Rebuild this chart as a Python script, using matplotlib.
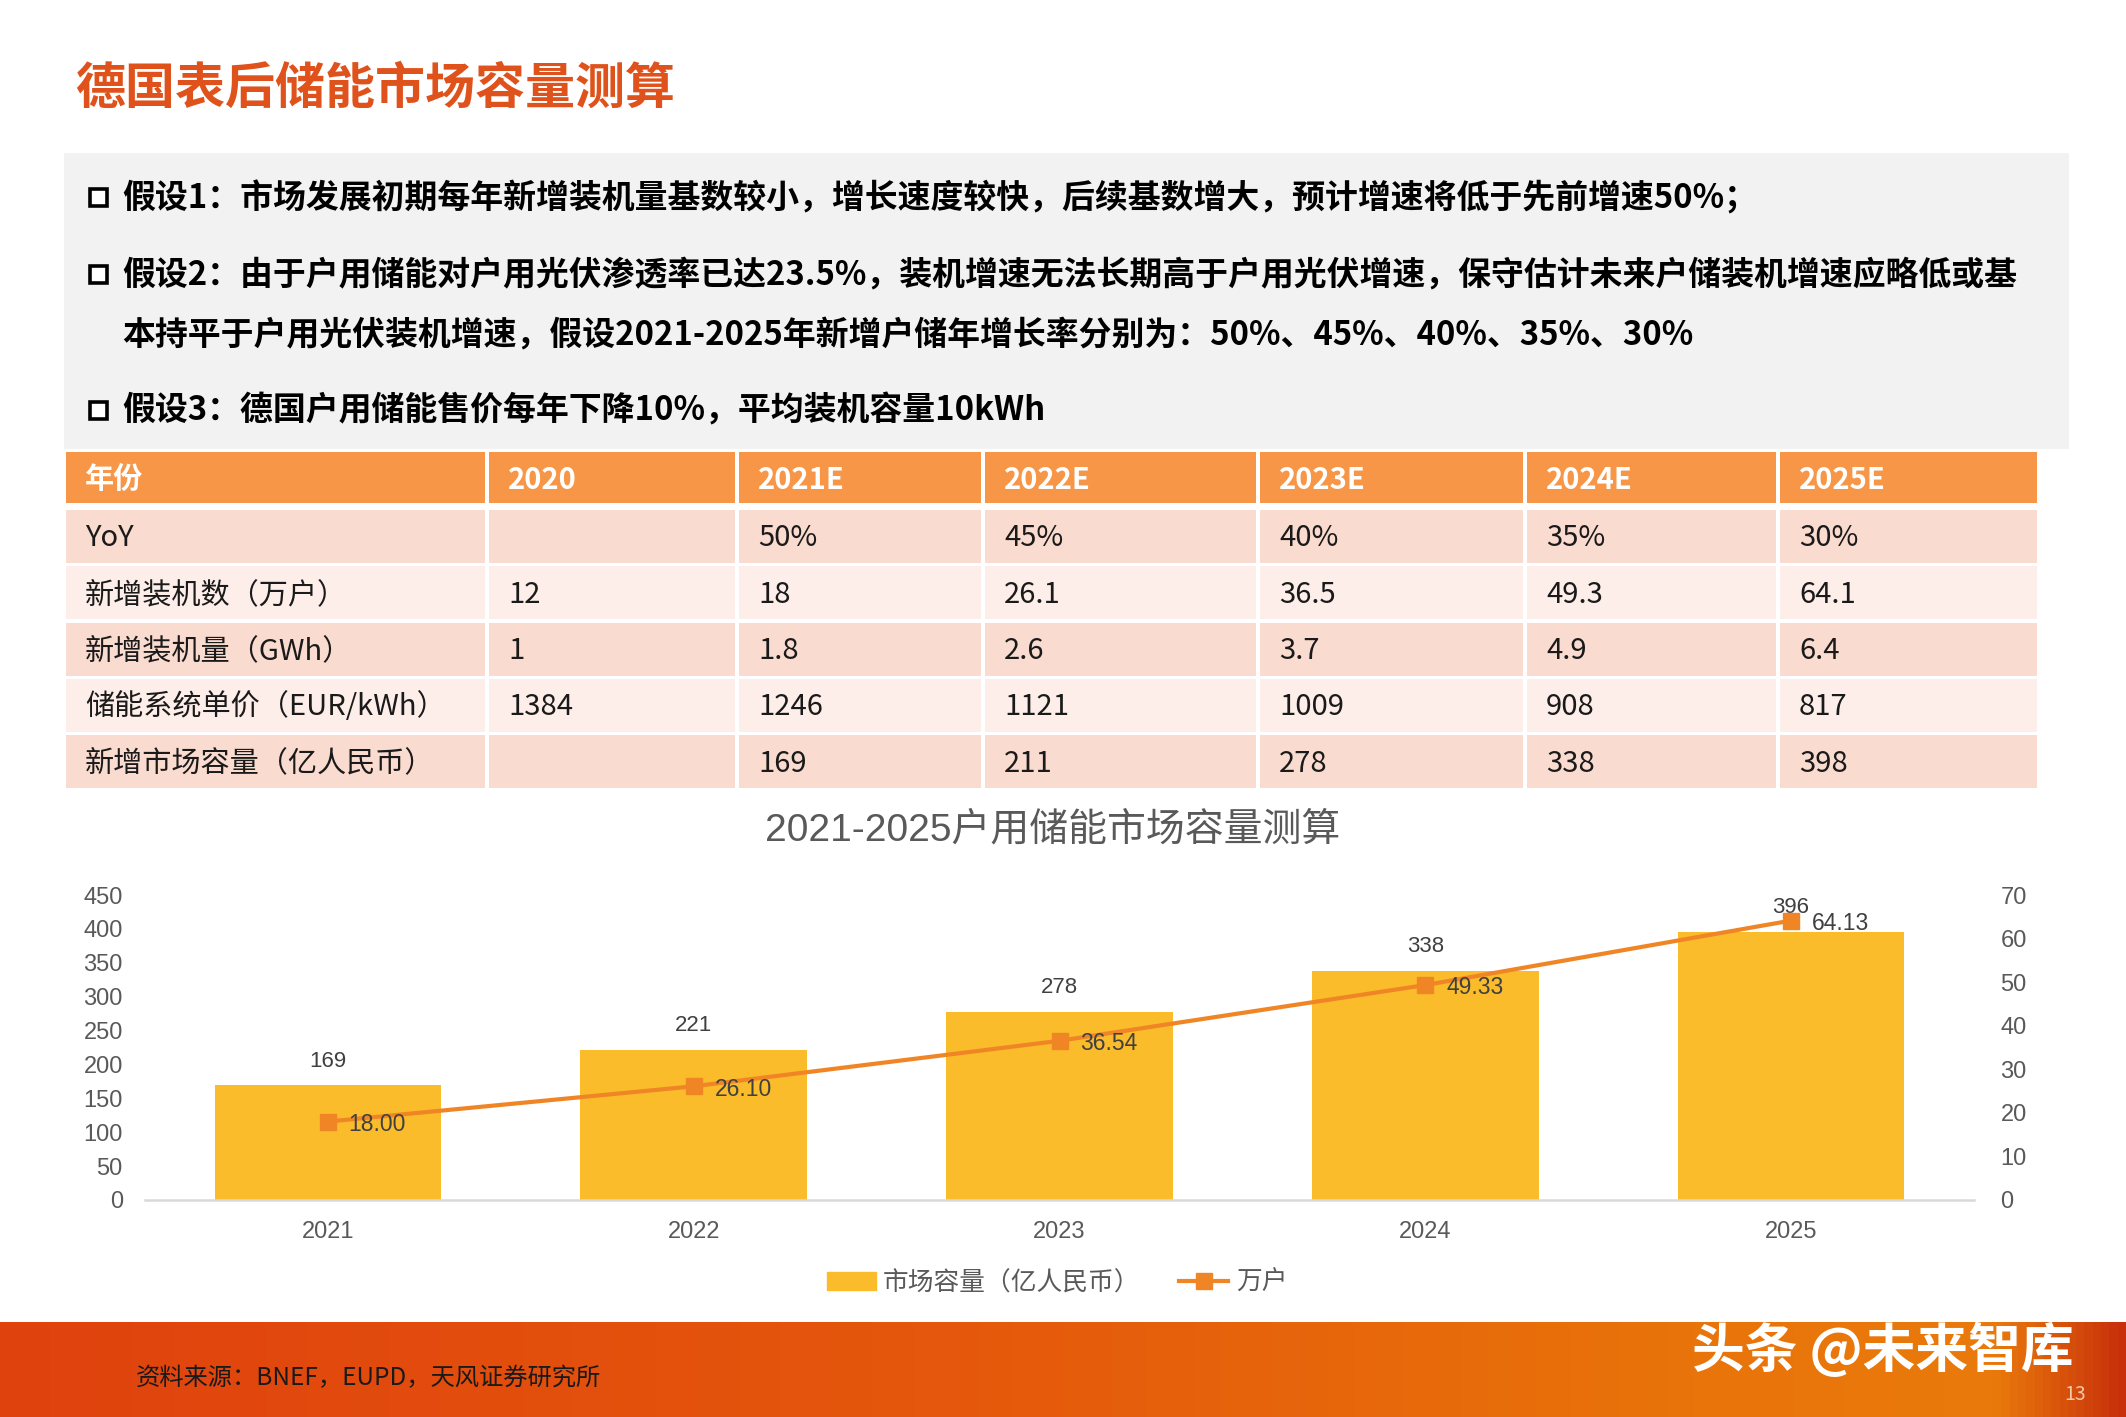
import numpy as np
import matplotlib
matplotlib.use("Agg")
import matplotlib.pyplot as plt
from matplotlib.patches import Rectangle
from matplotlib.lines import Line2D
from matplotlib.colors import LinearSegmentedColormap

W, H = 2126, 1417
CJK = ["Noto Sans CJK SC", "DejaVu Sans"]
CHART_FONT = ["Liberation Sans", "Noto Sans CJK SC"]

TITLE = "德国表后储能市场容量测算"
BULLETS = [
    "假设1：市场发展初期每年新增装机量基数较小，增长速度较快，后续基数增大，预计增速将低于先前增速50%；",
    "假设2：由于户用储能对户用光伏渗透率已达23.5%，装机增速无法长期高于户用光伏增速，保守估计未来户储装机增速应略低或基",
    "本持平于户用光伏装机增速，假设2021-2025年新增户储年增长率分别为：50%、45%、40%、35%、30%",
    "假设3：德国户用储能售价每年下降10%，平均装机容量10kWh",
]

# table
header = ["年份", "2020", "2021E", "2022E", "2023E", "2024E", "2025E"]
row_labels = ["YoY", "新增装机数（万户）", "新增装机量（GWh）", "储能系统单价（EUR/kWh）", "新增市场容量（亿人民币）"]
row_yoy = ["", "50%", "45%", "40%", "35%", "30%"]
row_units = ["12", "18", "26.1", "36.5", "49.3", "64.1"]
row_gwh = ["1", "1.8", "2.6", "3.7", "4.9", "6.4"]
row_price = ["1384", "1246", "1121", "1009", "908", "817"]
row_market = ["", "169", "211", "278", "338", "398"]

# chart
chart_title = "2021-2025户用储能市场容量测算"
years = ["2021", "2022", "2023", "2024", "2025"]
market = [169, 221, 278, 338, 396]
households = [18.00, 26.10, 36.54, 49.33, 64.13]
SOURCE = "资料来源：BNEF，EUPD，天风证券研究所"


def fx(px):
    return px / W


def fy(py):
    return 1 - py / H


def rect(x0, x1, y0, y1, **kw):
    # pixel box (top-left origin) -> figure rectangle
    fig.add_artist(Rectangle((fx(x0), fy(y1)), fx(x1) - fx(x0), fy(y0) - fy(y1),
                             transform=fig.transFigure, **kw))


fig = plt.figure(figsize=(W / 100, H / 100), dpi=100)
fig.patch.set_facecolor("white")

# title
fig.text(fx(75), fy(89), TITLE, family=CJK, fontsize=36, fontweight="heavy",
         color="#E0521B", va="center", ha="left")

# assumption box
rect(64, 2069, 153, 449, facecolor="#F2F2F2", edgecolor="none")
bullet_rows = [(198, True), (275, True), (335, False), (411, True)]
for text, (y, has_box) in zip(BULLETS, bullet_rows):
    if has_box:
        rect(90, 107, y - 9, y + 8, facecolor="white", edgecolor="black", linewidth=2.6)
    fig.text(fx(122), fy(y), text, family=CJK, fontsize=23.7, fontweight="bold",
             color="black", va="center", ha="left")

# table
col_edges = [64, 487, 737, 983, 1258, 1525, 1778, 2039]
rows = [row_yoy, row_units, row_gwh, row_price, row_market]
row_colors = ["#FADBD0", "#FDEEE9", "#FADBD0", "#FDEEE9", "#FADBD0"]

for i in range(len(header)):
    rect(col_edges[i] + 2, col_edges[i + 1] - 2, 452, 503, facecolor="#F79646", edgecolor="none")
    fig.text(fx(col_edges[i] + 21), fy(480), header[i], family=CJK, fontsize=21,
             fontweight="bold", color="white", va="center", ha="left")

for r, (label, vals) in enumerate(zip(row_labels, rows)):
    top = 510 + r * 56.3
    bot = top + 53
    yc = (top + bot) / 2 + 2
    for i in range(len(header)):
        rect(col_edges[i] + 2, col_edges[i + 1] - 2, top, bot, facecolor=row_colors[r], edgecolor="none")
    fig.text(fx(col_edges[0] + 21), fy(yc), label, family=CJK, fontsize=21,
             color="#1a1a1a", va="center", ha="left")
    for i, v in enumerate(vals):
        fig.text(fx(col_edges[i + 1] + 21), fy(yc), v, family=CJK, fontsize=21,
                 color="#1a1a1a", va="center", ha="left")

# chart
fig.text(fx(1053), fy(830), chart_title, family=CHART_FONT, fontsize=28,
         color="#595959", va="center", ha="center")

ax = fig.add_axes([fx(145), fy(1200), fx(1974) - fx(145), fy(895) - fy(1200)])
x = np.arange(len(years))
ax.bar(x, market, width=0.62, color="#FBBC2B", zorder=2)
ax.set_xlim(-0.5, len(years) - 0.5)
ax.set_ylim(0, 450)
ax.set_yticks(np.arange(0, 451, 50))
ax.set_xticks(x)
ax.set_xticklabels(years)
for s in ["top", "right", "left"]:
    ax.spines[s].set_visible(False)
ax.spines["bottom"].set_color("#D9D9D9")
ax.spines["bottom"].set_linewidth(1.8)
ax.tick_params(axis="y", length=0, pad=16, labelsize=17, labelcolor="#595959")
ax.tick_params(axis="x", length=0, pad=15, labelsize=17, labelcolor="#595959")
for lab in ax.get_xticklabels() + ax.get_yticklabels():
    lab.set_family(CHART_FONT)
for xi, v in zip(x, market):
    ax.annotate(f"{v}", (xi, v), xytext=(0, 10), textcoords="offset points",
                ha="center", va="bottom", fontsize=16, color="#404040", family=CHART_FONT)

ax2 = ax.twinx()
ax2.set_ylim(0, 70)
ax2.set_yticks(np.arange(0, 71, 10))
for s in ["top", "right", "left", "bottom"]:
    ax2.spines[s].set_visible(False)
ax2.tick_params(axis="y", length=0, pad=19, labelsize=17, labelcolor="#595959")
for lab in ax2.get_yticklabels():
    lab.set_family(CHART_FONT)
ax2.plot(x, households, color="#F08526", lw=3, marker="s", markersize=11, zorder=3)
for xi, v in zip(x, households):
    ax2.annotate(f"{v:.2f}", (xi, v), xytext=(15, -2), textcoords="offset points",
                 ha="left", va="center", fontsize=16.5, color="#404040", family=CHART_FONT)

handles = [Rectangle((0, 0), 1, 1, color="#FBBC2B"),
           Line2D([0], [0], color="#F08526", lw=3, marker="s", markersize=11)]
fig.legend(handles, ["市场容量（亿人民币）", "万户"], loc="center",
           bbox_to_anchor=(fx(1057), fy(1283)), ncol=2, frameon=False,
           prop={"family": CHART_FONT, "size": 18.5}, labelcolor="#595959",
           handlelength=1.9, columnspacing=1.5, handletextpad=0.3)

# bottom band
band = fig.add_axes([0, 0, 1, fy(1322)])
cmap = LinearSegmentedColormap.from_list(
    "band", [(0, "#E0420E"), (0.45, "#E5580C"), (0.8, "#E9740A"), (0.94, "#EA7A0B"), (1, "#C8300C")])
band.imshow(np.linspace(0, 1, 512)[None, :], aspect="auto", cmap=cmap, extent=(0, 1, 0, 1))
band.axis("off")
fig.text(fx(136), fy(1378), SOURCE, family=CJK, fontsize=17.5, color="#1a1a1a",
         va="center", ha="left")
fig.text(fx(1692), fy(1350), "头条 @未来智库", family=CJK, fontsize=38, fontweight="bold",
         color="white", va="center", ha="left")
fig.text(fx(2064), fy(1394), "13", family=CJK, fontsize=14, color="#F3C9A8",
         va="center", ha="left")

fig.savefig("out.png", dpi=100)
